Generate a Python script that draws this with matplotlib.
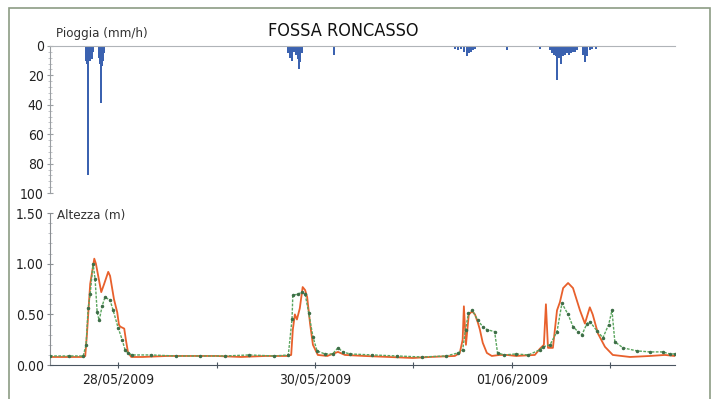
import matplotlib
matplotlib.use("Agg")
import matplotlib.pyplot as plt
import matplotlib.dates as mdates
from matplotlib.ticker import MultipleLocator, FixedLocator
from matplotlib.patches import Rectangle
from matplotlib import font_manager
import numpy as np

names = sorted({f.name + ' / ' + str(f.stretch) for f in font_manager.fontManager.ttflist})
print('\n'.join(n for n in names if 'ondens' in n or 'arrow' in n or 'condensed' in n))

plt.rcParams['font.family'] = ['DejaVu Sans']
plt.rcParams['font.stretch'] = 'condensed'

# ore dal 27/05/2009 00:00
rain_h = [16.2, 16.4, 16.7, 16.9, 17.2, 17.4, 17.7, 17.9,
          19.4, 19.6, 19.9, 20.1, 20.3, 20.6,
          65.4, 65.9, 66.4, 66.9, 67.4, 67.9, 68.1, 68.4, 68.8,
          76.6,
          106.1, 106.8, 107.6, 108.3, 109.0, 109.5, 110.0, 110.5, 111.0,
          118.8,
          126.1, 126.8, 127.6,
          129.3, 129.8, 130.3, 130.8, 131.0, 131.5, 132.0, 132.4, 132.9, 133.4,
          133.9, 134.4, 134.9, 135.4, 135.9,
          137.3, 137.8, 138.3, 139.0, 139.5, 140.5, 141.5]
rain_mm = [10, 12, 88, 8, 10, 6, 9, 4,
           8, 12, 39, 14, 10, 5,
           5, 8, 10, 4, 6, 9, 16, 11, 5,
           6,
           2, 3, 2, 4, 7, 5, 4, 3, 2,
           3,
           1, 2, 1,
           3, 5, 6, 7, 23, 8, 12, 7, 6, 5,
           6, 5, 4, 4, 3,
           6, 11, 7, 3, 2, 2, 1]

oss_h = [7.4, 10, 15, 16.0, 16.4, 17.2, 18.2, 18.6, 19.9, 20.6, 21.6, 22.05, 23.0,
         23.8, 24.2, 24.5, 25.5, 25.9, 26.4, 27.2, 30, 36, 42, 48, 54, 60, 65,
         66.2, 66.6, 67.1, 67.6, 68.3, 69.0, 69.6, 70.1, 70.8, 71.5, 72.7, 75,
         77.6, 79.3, 84, 90, 95.9, 100, 106.1, 107.3, 108.0, 108.3, 108.8, 109.5,
         110.3, 111.0, 111.7, 112.2, 112.9, 113.9, 115.1, 117, 118.8, 121, 125.6,
         126.8, 127.8, 128.3, 128.8, 130.0, 131.0, 131.7, 132.5, 133.7, 134.9,
         136.6, 137.8, 139.0, 139.7, 141.0, 142.7, 144.6, 148.8, 153.7, 157.3, 159.7]
oss_m = [0.08, 0.08, 0.08, 0.09, 0.30, 0.80, 1.05, 1.00, 0.72, 0.80, 0.92, 0.88, 0.65,
         0.52, 0.40, 0.38, 0.36, 0.25, 0.13, 0.08, 0.08, 0.09, 0.09, 0.09, 0.08, 0.09, 0.09,
         0.10, 0.35, 0.50, 0.45, 0.56, 0.77, 0.74, 0.67, 0.41, 0.20, 0.10, 0.09,
         0.13, 0.10, 0.09, 0.08, 0.07, 0.08, 0.09, 0.12, 0.25, 0.58, 0.20, 0.50,
         0.53, 0.50, 0.42, 0.35, 0.22, 0.12, 0.09, 0.10, 0.10, 0.09, 0.10,
         0.16, 0.20, 0.60, 0.17, 0.17, 0.54, 0.62, 0.76, 0.81, 0.76,
         0.54, 0.41, 0.57, 0.50, 0.31, 0.18, 0.10, 0.08, 0.09, 0.10, 0.09]

mod_h = [7.4, 12, 15.5, 16.2, 16.7, 17.2, 17.9, 18.4, 18.9, 19.4, 20.1, 20.8, 22.05,
         22.8, 24.0, 25.0, 25.7, 26.4, 27.4, 32, 38, 44, 50, 56, 62, 65.5, 66.4,
         66.6, 67.9, 68.8, 69.6, 70.5, 71.5, 72.5, 74.4, 76.3, 77.6, 78.8, 80.5,
         86, 92, 98, 104, 106.9, 108.0, 108.7, 109.4, 110.4, 111.7, 112.9, 113.9,
         115.8, 116.5, 118.2, 121, 124, 126.8, 127.6, 129.3, 131.0, 132.2, 133.7,
         134.9, 136.1, 137.1, 138.3, 139.0, 140.7, 142.2, 143.6, 144.4, 145.1,
         147.1, 150.5, 153.7, 156.8, 158.5, 159.7]
mod_m = [0.09, 0.09, 0.09, 0.20, 0.56, 0.70, 1.00, 0.85, 0.52, 0.44, 0.58, 0.67, 0.64,
         0.54, 0.37, 0.25, 0.15, 0.12, 0.10, 0.10, 0.09, 0.09, 0.09, 0.10, 0.09, 0.10, 0.45,
         0.69, 0.70, 0.72, 0.70, 0.51, 0.28, 0.14, 0.11, 0.11, 0.17, 0.13, 0.11,
         0.10, 0.09, 0.08, 0.09, 0.12, 0.15, 0.35, 0.51, 0.54, 0.44, 0.38, 0.35,
         0.33, 0.12, 0.10, 0.11, 0.10, 0.15, 0.18, 0.20, 0.33, 0.61, 0.50,
         0.38, 0.33, 0.30, 0.41, 0.43, 0.34, 0.27, 0.40, 0.54, 0.23,
         0.17, 0.14, 0.13, 0.13, 0.11, 0.11]

date_labels = ['28/05/2009', '', '30/05/2009', '', '01/06/2009', '']

t0 = mdates.datestr2num('2009-05-27 00:00')
def to_num(h):
    return t0 + np.array(h) / 24.0

fig = plt.figure(figsize=(7.14, 3.99), dpi=100)
fig.patches.append(Rectangle((9 / 714, -0.05), 701 / 714, 1.05 - 8 / 399,
                             transform=fig.transFigure, fill=False,
                             edgecolor='#8c9c84', linewidth=1.2))

ax1 = fig.add_axes([0.070, 0.516, 0.875, 0.369])
ax2 = fig.add_axes([0.070, 0.085, 0.875, 0.381], sharex=ax1)

xmin, xmax = to_num(7.4), to_num(159.7)

ax1.bar(to_num(rain_h), rain_mm, width=0.4 / 24, color='#3b62b0', align='center')
ax1.set_ylim(100, 0)
ax1.set_xlim(xmin, xmax)
for s in ['right', 'bottom']:
    ax1.spines[s].set_visible(False)
ax1.spines['top'].set_color('#b0b4b8')
ax1.spines['left'].set_color('#9a9ea2')
ax1.yaxis.set_major_locator(MultipleLocator(20))
ax1.yaxis.set_minor_locator(MultipleLocator(4))
ax1.tick_params(axis='y', which='major', direction='inout', length=5, color='#9a9ea2',
                labelsize=10, pad=2, labelcolor='#222222')
ax1.tick_params(axis='y', which='minor', direction='inout', length=3, color='#b8bcc0')
ax1.tick_params(axis='x', which='both', bottom=False, top=False, labelbottom=False)
ax1.text(0.01, 1.04, 'Pioggia (mm/h)', transform=ax1.transAxes, fontsize=9.5,
         color='#333333', va='bottom', ha='left')
ax1.text(0.47, 1.04, 'FOSSA RONCASSO', transform=ax1.transAxes, fontsize=13,
         color='#111111', va='bottom', ha='center')

ax2.plot(to_num(oss_h), oss_m, color='#e8602c', linewidth=1.3, zorder=3)
ax2.plot(to_num(mod_h), mod_m, color='#5aa55e', linewidth=1.0, linestyle=(0, (2, 1)),
         marker='.', markersize=3, markerfacecolor='#3e6e48', markeredgecolor='#3e6e48',
         zorder=4)
ax2.set_ylim(0, 1.5)
ax2.set_xlim(xmin, xmax)
for s in ['right', 'top']:
    ax2.spines[s].set_visible(False)
ax2.spines['left'].set_color('#8a8e92')
ax2.spines['bottom'].set_color('#4a5560')
ax2.yaxis.set_major_locator(FixedLocator([0, 0.5, 1.0, 1.5]))
ax2.yaxis.set_minor_locator(MultipleLocator(0.1))
ax2.yaxis.set_major_formatter(plt.FuncFormatter(lambda v, p: f'{v:.2f}'))
ax2.tick_params(axis='y', which='major', direction='inout', length=5, color='#8a8e92',
                labelsize=10, pad=2, labelcolor='#222222')
ax2.tick_params(axis='y', which='minor', direction='inout', length=3, color='#b8bcc0')

day_ticks = [t0 + d for d in range(1, 7)]
ax2.xaxis.set_major_locator(FixedLocator(day_ticks))
ax2.set_xticklabels(date_labels)
ax2.tick_params(axis='x', which='major', direction='inout', length=4, color='#4a5560',
                labelsize=10, pad=3, labelcolor='#222222')
ax2.text(0.012, 0.985, 'Altezza (m)', transform=ax2.transAxes, fontsize=9.5,
         color='#333333', va='center', ha='left')

fig.savefig('out.png', dpi=100)
